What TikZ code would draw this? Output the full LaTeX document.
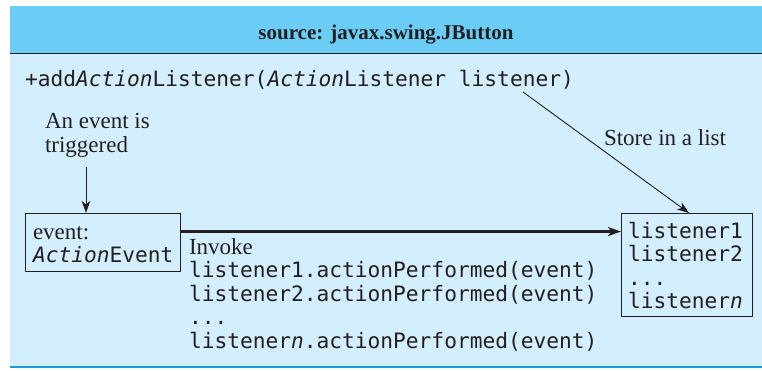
\documentclass[tikz,border=0pt]{standalone}
\usepackage{fontspec}
\setmainfont{Liberation Serif}
\setmonofont{DejaVu Sans Mono}
\usetikzlibrary{arrows.meta}
\definecolor{hdr}{HTML}{6BCDF6}
\definecolor{bodyc}{HTML}{D3EEFC}
\definecolor{botl}{HTML}{1E9AD6}
\definecolor{ink}{HTML}{231F20}
\begin{document}
\begin{tikzpicture}[x=1pt,y=-1pt,
  txt/.style={inner sep=0pt, outer sep=0pt, anchor=base west, text=ink},
  serif/.style={txt, font=\fontsize{23}{23}\selectfont},
  mono/.style={txt, font=\fontsize{21.2}{21.2}\selectfont\ttfamily},
  boxed/.style={draw=ink, line width=1.1pt, fill=none, inner sep=0pt, anchor=north west},
  thinarrow/.style={draw=ink, line width=0.9pt, -{Stealth[length=12pt, width=8.5pt, inset=3.5pt]}},
  thickarrow/.style={draw=ink, line width=2.4pt, -{Stealth[length=13pt, width=9pt, inset=3.5pt]}}]
\useasboundingbox (0,0) rectangle (762,370);
% background
\fill[hdr] (10,6) rectangle (762,53.5);
\fill[bodyc] (10,53.5) rectangle (762,366);
\draw[ink, line width=1.6pt] (10,53.5) -- (762,53.5);
\draw[botl, line width=2pt] (10,367) -- (762,367);
% header
\node[inner sep=0pt, anchor=base, text=ink, font=\bfseries\fontsize{21}{21}\selectfont] (title) at (386,39) {source: javax.swing.JButton};
\node[mono] (meth) at (25,86) {+add\textit{Action}Listener(\textit{Action}Listener listener)};
% labels
\node[serif] (ev1) at (45,128) {An event is};
\node[serif] (ev2) at (45,152) {triggered};
\node[serif] (store) at (604,145) {Store in a list};
% boxes
\node[boxed, minimum width=155, minimum height=58] (ev) at (25,213) {};
\node[serif] (evt1) at (33,239) {event:};
\node[mono] (evt2) at (33,262) {\textit{Action}Event};
\node[boxed, minimum width=131, minimum height=103] (lst) at (621,213) {};
\node[mono] (l1) at (628,238) {listener1};
\node[mono] (l2) at (628,261.5) {listener2};
\node[mono] (l3) at (628,285) {...};
\node[mono] (l4) at (628,308.5) {listener\textit{n}};
% invoke block
\node[serif] (inv) at (189,254) {Invoke};
\node[mono] (i1) at (189,277.5) {listener1.actionPerformed(event)};
\node[mono] (i2) at (189,301) {listener2.actionPerformed(event)};
\node[mono] (i3) at (189,324.5) {...};
\node[mono] (i4) at (189,348) {listener\textit{n}.actionPerformed(event)};
% connectors
\coordinate (ds) at (523,92);
\coordinate (de) at ([xshift=68pt]lst.north west);
\draw[thinarrow] (ds) -- (de);
\coordinate (dt) at (86,167);
\draw[thinarrow] (dt) -- (dt |- ev.north);
\coordinate (h1) at ([yshift=11pt]ev.east);
\draw[thickarrow] (h1) -- (h1 -| lst.west);
\end{tikzpicture}
\end{document}
